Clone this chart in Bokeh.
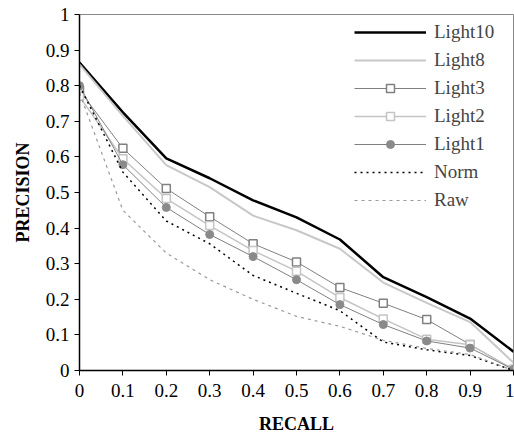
from bokeh.plotting import figure
from bokeh.models import FixedTicker, Legend, LegendItem
from bokeh.embed import file_html
from bokeh.resources import INLINE

recall = [0.0, 0.1, 0.2, 0.3, 0.4, 0.5, 0.6, 0.7, 0.8, 0.9, 1.0]
light10 = [0.865, 0.725, 0.596, 0.54, 0.478, 0.43, 0.368, 0.262, 0.206, 0.146, 0.053]
light8 = [0.86, 0.715, 0.577, 0.515, 0.435, 0.394, 0.342, 0.247, 0.19, 0.136, 0.022]
light3 = [0.787, 0.624, 0.511, 0.432, 0.356, 0.305, 0.233, 0.189, 0.143, 0.073, 0.003]
light2 = [0.77, 0.595, 0.483, 0.407, 0.337, 0.279, 0.205, 0.145, 0.088, 0.072, 0.003]
light1 = [0.80, 0.578, 0.458, 0.382, 0.32, 0.255, 0.185, 0.129, 0.083, 0.063, 0.003]
norm = [0.80, 0.557, 0.42, 0.356, 0.267, 0.217, 0.168, 0.08, 0.058, 0.042, 0.0]
raw = [0.78, 0.45, 0.33, 0.255, 0.2, 0.152, 0.124, 0.085, 0.062, 0.045, 0.0]

ticks = [0.0, 0.1, 0.2, 0.3, 0.4, 0.5, 0.6, 0.7, 0.8, 0.9, 1.0]
tick_labels = ["0", "0.1", "0.2", "0.3", "0.4", "0.5", "0.6", "0.7", "0.8", "0.9", "1"]

FONT = "'Liberation Serif', 'DejaVu Serif', serif"

p = figure(frame_width=434, frame_height=356, x_range=(0, 1), y_range=(0, 1),
           output_backend="svg", toolbar_location=None,
           min_border_left=79, min_border_right=1, min_border_top=14, min_border_bottom=64)
p.background_fill_color = "white"
p.border_fill_color = "white"
p.outline_line_color = "#888888"
p.outline_line_width = 1
p.xgrid.visible = False
p.ygrid.visible = False

for ax in (p.xaxis[0], p.yaxis[0]):
    ax.ticker = FixedTicker(ticks=ticks)
    ax.major_label_overrides = {t: l for t, l in zip(ticks, tick_labels)}
    ax.minor_tick_line_color = None
    ax.major_tick_in = 0
    ax.major_tick_out = 5
    ax.axis_line_color = "black"
    ax.axis_line_width = 1.5
    ax.major_tick_line_color = "black"
    ax.major_label_text_font = FONT
    ax.major_label_text_font_size = "19px"
    ax.major_label_text_color = "black"
    ax.axis_label_text_font = FONT
    ax.axis_label_text_font_size = "18px"
    ax.axis_label_text_font_style = "bold"
    ax.axis_label_text_color = "black"

p.xaxis.axis_label = "RECALL"
p.yaxis.axis_label = "PRECISION"
p.xaxis.major_label_standoff = 8
p.xaxis.axis_label_standoff = 14
p.yaxis.major_label_standoff = 5
p.yaxis.axis_label_standoff = 10

items = []
r = p.line(recall, light10, line_color="black", line_width=2.5)
items.append(LegendItem(label="Light10", renderers=[r]))
r = p.line(recall, light8, line_color="#c8c8c8", line_width=2)
items.append(LegendItem(label="Light8", renderers=[r]))
r1 = p.line(recall, light3, line_color="#808080", line_width=1)
r2 = p.scatter(recall, light3, marker="square", size=8, line_color="#808080", line_width=1.5, fill_color="white")
items.append(LegendItem(label="Light3", renderers=[r1, r2]))
r1 = p.line(recall, light2, line_color="#c4c4c4", line_width=1.5)
r2 = p.scatter(recall, light2, marker="square", size=8, line_color="#c4c4c4", line_width=1.5, fill_color="white")
items.append(LegendItem(label="Light2", renderers=[r1, r2]))
r1 = p.line(recall, light1, line_color="#808080", line_width=1)
r2 = p.scatter(recall, light1, marker="circle", size=8, line_color="#8a8a8a", fill_color="#8a8a8a")
items.append(LegendItem(label="Light1", renderers=[r1, r2]))
r = p.line(recall, norm, line_color="black", line_width=1.5, line_dash="2 4")
items.append(LegendItem(label="Norm", renderers=[r]))
r = p.line(recall, raw, line_color="#999999", line_width=1.2, line_dash="3 4")
items.append(LegendItem(label="Raw", renderers=[r]))

legend = Legend(items=items, location=(275, 159))
legend.border_line_color = None
legend.background_fill_alpha = 0
legend.label_text_font = FONT
legend.label_text_font_size = "19px"
legend.glyph_width = 72
legend.glyph_height = 20
legend.label_height = 20
legend.label_standoff = 8
legend.spacing = 6
legend.margin = 0
legend.padding = 0
p.add_layout(legend)

open("out.html", "w").write(file_html(p, INLINE))
